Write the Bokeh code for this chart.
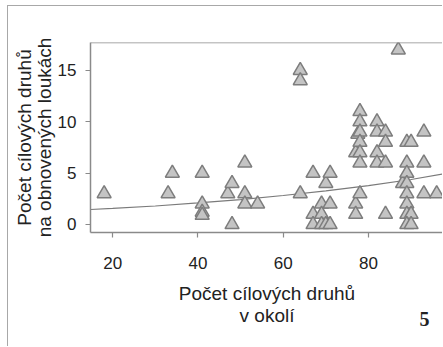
from bokeh.plotting import figure
from bokeh.models import ColumnDataSource, Span, Label, FixedTicker, Range1d, LinearAxis
from bokeh.embed import file_html
from bokeh.resources import INLINE

# Points: target species in surroundings (x) vs. on restored meadows (y)
okoli = [18, 33, 34, 41, 41, 41, 41, 47, 48, 48, 51, 51, 51, 54,
         64, 64, 64, 67, 67, 67, 69, 69, 69, 70, 70, 71, 71, 71,
         77.5, 77, 77, 77, 78, 78, 78, 78, 78, 78, 78,
         82, 82, 82, 82, 84, 84, 84, 84,
         87, 88, 89, 90, 89, 89, 89, 89, 89, 89, 90, 89, 90,
         93, 93, 93, 96]
louky = [3, 3, 5, 5, 2, 1.2, 0.9, 3, 4, 0, 6, 3, 2, 2,
         15, 14, 3, 5, 1, 0, 2, 1, 0, 4, 0, 5, 2, 0,
         8.8, 7, 2, 1, 11, 10, 9, 8, 7, 6, 3,
         10, 9, 7, 6, 9, 8, 6, 1,
         17, 4, 8, 8, 6, 5, 4, 3, 2, 1, 1, 0, 0,
         9, 6, 3, 3]

# Fitted curve
curve_x = [14.8, 20, 30, 40, 50, 60, 70, 80, 90, 97.6]
curve_y = [1.46, 1.56, 1.80, 2.10, 2.43, 2.82, 3.27, 3.78, 4.38, 4.94]

x_ticks = [20, 40, 60, 80]
y_ticks = [0, 5, 10, 15]

FONT = "Liberation Sans"
TXT = "#222222"
LINE = "#8a8a8a"

p = figure(width=435, height=341, output_backend="svg", toolbar_location=None,
           x_range=Range1d(14.8, 97.6), y_range=Range1d(-0.78, 17.72),
           min_border_left=82, min_border_top=36, min_border_bottom=115,
           min_border_right=0)
p.outline_line_color = None
p.grid.visible = False
p.background_fill_color = "white"
p.border_fill_color = "white"

p.line(curve_x, curve_y, line_color="#7a7a7a", line_width=1.2)

src = ColumnDataSource(data=dict(x=okoli, y=louky))
p.scatter("x", "y", source=src, marker="triangle", size=14,
          fill_color="#c4c4c4", line_color="#7d7d7d", line_width=1.5)

p.add_layout(Span(location=17.72, dimension="width", line_color=LINE, line_width=1.5))

for ax in (p.xaxis[0], p.yaxis[0]):
    ax.axis_line_color = LINE
    ax.axis_line_width = 1.5
    ax.major_tick_line_color = LINE
    ax.major_tick_line_width = 1.2
    ax.major_tick_in = 0
    ax.major_tick_out = 5
    ax.minor_tick_line_color = None
    ax.major_label_text_font = FONT
    ax.major_label_text_font_size = "17px"
    ax.major_label_text_color = TXT
    ax.axis_label_text_font = FONT
    ax.axis_label_text_font_size = "19px"
    ax.axis_label_text_font_style = "normal"
    ax.axis_label_text_color = TXT
    ax.axis_label_text_line_height = 1.06

p.xaxis.ticker = FixedTicker(ticks=x_ticks)
p.yaxis.ticker = FixedTicker(ticks=y_ticks)
p.xaxis.major_label_standoff = 19
p.yaxis.major_label_standoff = 9
p.xaxis.axis_label = "Počet cílových druhů\nv okolí"
p.xaxis.axis_label_standoff = 11
p.yaxis.axis_label = "na obnovených loukách"
p.yaxis.axis_label_standoff = 0

# outer line of the y-axis title
outer = LinearAxis(ticker=FixedTicker(ticks=[]), axis_label="Počet cílových druhů",
                   axis_line_color=None, major_tick_line_color=None,
                   minor_tick_line_color=None, major_tick_out=0, major_tick_in=0,
                   major_label_standoff=0, axis_label_standoff=-4,
                   axis_label_text_font=FONT, axis_label_text_font_size="19px",
                   axis_label_text_font_style="normal", axis_label_text_color=TXT)
p.add_layout(outer, "left")

p.add_layout(Label(x=334, y=24, x_units="screen", y_units="screen", text="5",
                   text_font="Liberation Serif", text_font_style="bold",
                   text_font_size="20px", text_color=TXT,
                   text_align="center", text_baseline="alphabetic"), "below")

p.styles = {"margin-left": "7px", "margin-top": "5px",
            "border-left": "1px solid #a8a8a8", "border-top": "1px solid #a8a8a8"}

open("out.html", "w").write(file_html(p, INLINE))
